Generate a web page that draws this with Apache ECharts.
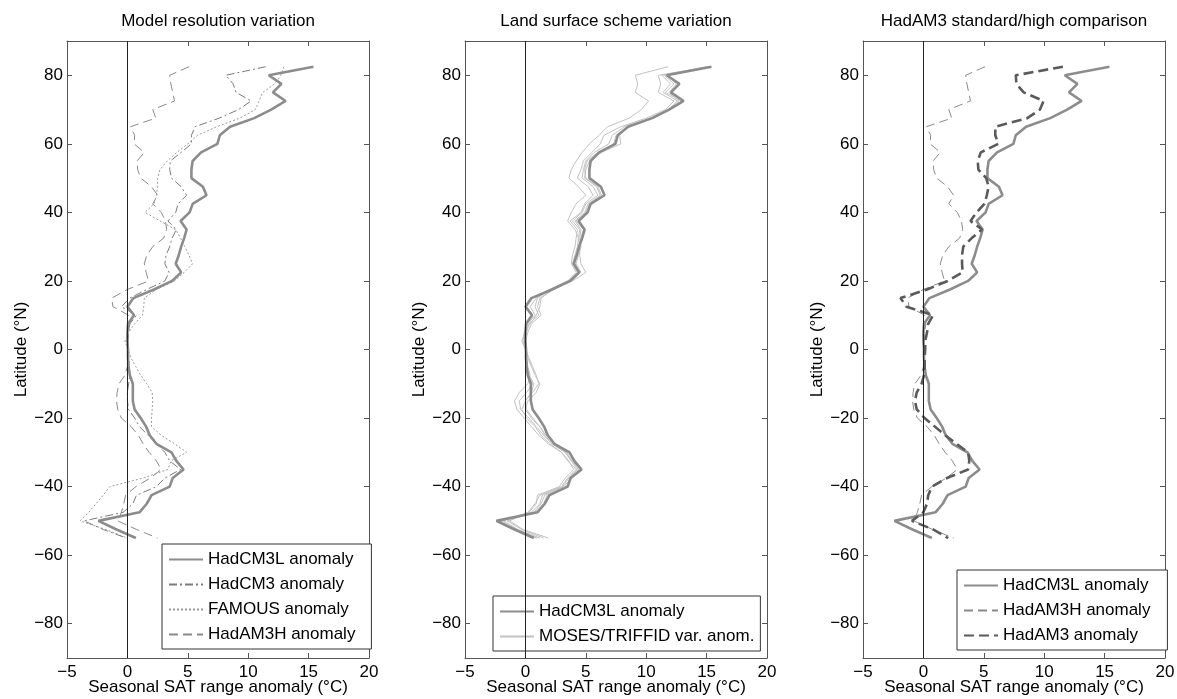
<!DOCTYPE html>
<html>
<head>
<meta charset="utf-8">
<script src="https://cdn.jsdelivr.net/npm/echarts@6/dist/echarts.min.js"></script>
<style>html,body{margin:0;padding:0;background:#fff}#c{width:1177px;height:699px}</style>
</head>
<body>
<div id="c"></div>
<script>
// Latitudes (°N) of each profile point
const lat = [82.5, 80, 77.5, 75, 72.5, 70, 67.5, 65,
  62.5, 60, 57.5, 55, 52.5, 50, 47.5, 45,
  42.5, 40, 37.5, 35, 32.5, 30, 27.5, 25,
  22.5, 20, 17.5, 15, 12.5, 10, 7.5, 5,
  2.5, 0, -2.5, -5, -7.5, -10, -12.5, -15,
  -17.5, -20, -22.5, -25, -27.5, -30, -32.5, -35,
  -37.5, -40, -42.5, -45, -47.5, -50, -52.5, -55];

const hadcm3l = [15.4, 11.7, 12.75, 12.05, 13.1, 11.9, 10.5, 8.5,
  7.65, 7.45, 6.1, 5.4, 5.3, 5.3, 6.25, 6.55,
  5.4, 5.15, 4.4, 4.9, 4.7, 4.45, 4.25, 4.0,
  4.45, 3.7, 2.2, 0.5, 0.0, 0.55, 0.05, 0.0,
  0.0, 0.05, 0.05, 0.1, 0.2, 0.45, 0.45, 0.45,
  0.6, 1.1, 1.55, 1.85, 2.4, 3.65, 4.05, 4.65,
  3.75, 3.5, 2.0, 1.6, 1.0, -2.4, -0.9, 0.7];

const hadcm3 = [11.45, 8.15, 8.75, 9.0, 10.25, 9.2, 7.6, 5.6,
  5.3, 5.3, 4.45, 3.55, 3.5, 3.65, 4.45, 4.9,
  4.2, 4.0, 3.35, 4.05, 3.7, 3.5, 3.2, 3.1,
  3.45, 3.1, 1.6, 0.2, -0.5, 0.75, 0.2, 0.1,
  0.0, 0.1, 0.1, 0.15, 0.2, 0.1, 0.0, 0.0,
  0.1, 0.6, 1.0, 1.7, 2.4, 3.1, 3.5, 4.4,
  3.1, 2.4, 0.75, 0.45, -0.35, -3.6, -2.0, -0.1];

const famous = [12.95, 12.7, 12.2, 11.2, 10.9, 10.6, 9.3, 7.4,
  5.8, 5.0, 4.1, 3.3, 2.7, 2.5, 2.5, 2.4,
  2.2, 1.45, 2.7, 4.0, 4.4, 4.75, 5.1, 5.4,
  4.7, 3.9, 2.4, 1.4, 1.35, 1.25, 0.6, 0.1,
  -0.2, 0.05, 0.3, 0.7, 1.1, 1.6, 2.05, 2.1,
  2.05, 2.0, 2.0, 2.8, 3.9, 4.9, 3.6, 3.35,
  1.3, -1.45, -2.0, -2.6, -3.2, -3.9, -1.8, 0.0];

const hadam3h = [5.1, 3.5, 3.6, 3.75, 3.9, 2.1, 2.35, 0.25,
  0.6, 0.55, 1.4, 0.8, 0.85, 1.1, 2.0, 2.5,
  2.1, 2.8, 3.15, 3.25, 3.0, 2.1, 1.6, 1.4,
  1.55, 1.75, 0.0, -1.3, -1.2, 0.1, 0.2, 0.1,
  0.05, 0.0, 0.0, 0.0, -0.2, -0.7, -0.85, -0.9,
  -0.8, -0.5, 0.3, 0.9, 1.3, 1.8, 2.4, 2.8,
  1.9, 0.7, -0.15, -0.3, -0.5, -0.8, 0.75, 2.5];

const hadam3 = [11.55, 7.65, 7.7, 8.3, 9.95, 9.65, 8.6, 5.95,
  5.95, 6.2, 4.75, 4.5, 4.55, 5.2, 5.4, 5.25,
  5.05, 4.4, 3.9, 4.85, 4.0, 3.3, 3.2, 3.2,
  3.25, 2.0, 0.3, -1.9, -1.4, 0.8, 0.4, 0.3,
  0.15, 0.15, 0.1, 0.1, 0.05, -0.15, -0.55, -0.7,
  -0.55, 0.1, 0.95, 1.8, 2.75, 3.7, 3.8, 3.7,
  1.95, 0.7, 0.4, 0.3, 0.0, -0.95, 0.8, 2.05];

const mosesA = [11.8, 9.1, 9.3, 9.1, 10.2, 9.6, 8.6, 6.8,
  6.1, 5.3, 4.7, 4.2, 3.8, 3.6, 4.4, 5.0,
  4.2, 3.8, 3.5, 4.1, 4.4, 4.5, 4.5, 4.6,
  5.0, 3.9, 2.3, 1.3, 1.2, 0.9, 0.4, -0.1,
  -0.2, 0.0, 0.3, 0.6, 0.9, 1.1, 0.6, 0.0,
  -0.3, 0.1, 0.8, 1.3, 2.0, 3.0, 3.5, 4.2,
  3.5, 3.0, 1.2, 0.8, 0.2, -1.3, -0.2, 1.9];

const mosesB = [15.2, 11.0, 11.2, 11.0, 12.3, 11.6, 10.0, 7.9,
  6.5, 6.2, 5.5, 4.8, 4.6, 4.3, 5.2, 5.6,
  4.9, 4.6, 3.7, 4.3, 4.2, 4.1, 3.9, 3.8,
  4.2, 3.5, 2.0, 1.0, 0.8, 1.1, 0.3, 0.1,
  -0.1, 0.05, 0.1, 0.2, 0.4, 0.2, -0.5, -0.9,
  -0.7, -0.1, 0.5, 1.1, 1.9, 3.0, 3.6, 4.0,
  3.3, 2.8, 1.0, 0.9, 0.3, -1.8, -0.6, 1.2];

const mosesC = [15.0, 11.3, 12.0, 11.4, 12.6, 11.8, 10.3, 8.2,
  7.2, 6.9, 5.7, 5.0, 4.8, 4.7, 5.6, 6.0,
  5.0, 4.7, 3.9, 4.5, 4.4, 4.3, 4.1, 3.9,
  4.3, 3.6, 2.1, 0.9, 0.4, 0.8, 0.2, 0.0,
  -0.3, 0.0, 0.1, 0.15, 0.3, 0.6, 0.1, -0.5,
  -0.4, 0.3, 0.9, 1.5, 2.2, 3.3, 3.8, 4.3,
  3.6, 3.1, 1.4, 1.2, 0.5, -2.0, -0.7, 0.9];

const mosesD = [15.3, 11.5, 12.3, 11.6, 12.9, 12.0, 10.5, 8.4,
  7.8, 7.9, 6.3, 5.3, 5.0, 4.9, 5.9, 6.2,
  5.2, 4.9, 4.1, 4.6, 4.5, 4.6, 4.4, 4.2,
  4.6, 3.8, 2.3, 1.2, 1.0, 1.3, 0.5, 0.2,
  0.0, 0.1, 0.2, 0.5, 0.8, 1.2, 0.9, 0.2,
  0.0, 0.5, 1.2, 1.7, 2.4, 3.4, 3.9, 4.4,
  3.8, 3.2, 1.6, 1.3, 0.7, -1.5, -0.3, 1.5];

const mosesE = [15.4, 11.7, 12.5, 11.9, 12.7, 11.9, 10.4, 8.6,
  7.5, 7.3, 6.0, 5.1, 4.9, 5.0, 6.0, 6.3,
  5.3, 5.0, 4.2, 4.8, 4.6, 4.4, 4.2, 4.1,
  4.5, 3.7, 2.1, 0.6, 0.1, 0.6, 0.1, 0.0,
  0.0, 0.0, 0.0, 0.1, 0.3, 0.7, 0.5, 0.0,
  0.1, 0.6, 1.2, 1.6, 2.2, 3.3, 3.8, 4.5,
  3.7, 3.4, 1.8, 1.5, 0.8, -2.2, -0.8, 1.0];

const panelTitles = ['Model resolution variation', 'Land surface scheme variation', 'HadAM3 standard/high comparison'];
const xLabel = 'Seasonal SAT range anomaly (\u00B0C)';
const yLabel = 'Latitude (\u00B0N)';
const yTicks = [-80, -60, -40, -20, 0, 20, 40, 60, 80];

const N_CM3L = 'HadCM3L anomaly', N_CM3 = 'HadCM3 anomaly', N_FAM = 'FAMOUS anomaly',
      N_AM3H = 'HadAM3H anomaly', N_AM3 = 'HadAM3 anomaly', N_MOS = 'MOSES/TRIFFID var. anom.';

// ---- styling / layout ----
const FONT = "'Liberation Sans', Arial, Helvetica, sans-serif";
const FS = 17;
const gridLefts = [67, 465, 863];
const GW = 302, GTOP = 41, GH = 617;
const AX = '#555';
const fmt = v => (v < 0 ? '\u2212' + Math.abs(v) : String(v));

const styles = {
  cm3l: { color: '#8c8c8c', width: 2.6, type: 'solid' },
  cm3:  { color: '#7a7a7a', width: 1, type: [8, 3, 2, 3] },
  fam:  { color: '#9a9a9a', width: 1, type: [2, 2] },
  am3h: { color: '#8a8a8a', width: 1, type: [9, 5] },
  am3:  { color: '#5a5a5a', width: 2.6, type: [10, 5] },
  mos:  { color: '#c2c2c2', width: 1, type: 'solid' }
};

const pairs = vals => vals.map((v, i) => [v, lat[i]]);

function line(name, vals, panel, st, z, zeroLine) {
  const s = {
    type: 'line', name: name, data: pairs(vals),
    xAxisIndex: panel * 2, yAxisIndex: panel * 2,
    symbol: 'none', showSymbol: false, smooth: false, z: z,
    lineStyle: { color: st.color, width: st.width, type: st.type },
    itemStyle: { color: st.color },
    emphasis: { disabled: true }, silent: true, animation: false
  };
  if (zeroLine) {
    s.markLine = {
      silent: true, symbol: ['none', 'none'], animation: false,
      label: { show: false },
      lineStyle: { color: '#222', width: 1, type: 'solid' },
      emphasis: { disabled: true },
      data: [{ xAxis: 0 }]
    };
  }
  return s;
}

const grids = [], xAxes = [], yAxes = [], titles = [];
for (let p = 0; p < 3; p++) {
  grids.push({ left: gridLefts[p], top: GTOP, width: GW, height: GH, containLabel: false, outerBoundsMode: 'none', show: false });
  const xBase = { type: 'value', gridIndex: p, min: -5, max: 20, interval: 5, splitLine: { show: false } };
  xAxes.push(Object.assign({}, xBase, {
    position: 'bottom',
    axisLine: { show: true, onZero: false, lineStyle: { color: AX, width: 1 } },
    axisTick: { show: true, inside: true, length: 5, lineStyle: { color: AX } },
    axisLabel: { show: true, fontSize: FS, fontFamily: FONT, color: '#000', margin: 6, formatter: fmt, showMinLabel: true, showMaxLabel: true },
    name: xLabel, nameLocation: 'middle', nameGap: 21, nameMoveOverlap: false,
    nameTextStyle: { fontSize: FS, fontFamily: FONT, color: '#000' }
  }));
  xAxes.push(Object.assign({}, xBase, {
    position: 'top',
    axisLine: { show: true, onZero: false, lineStyle: { color: AX, width: 1 } },
    axisTick: { show: true, inside: true, length: 5, lineStyle: { color: AX } },
    axisLabel: { show: false }
  }));
  const yBase = { type: 'value', gridIndex: p, min: -90, max: 90, splitLine: { show: false } };
  yAxes.push(Object.assign({}, yBase, {
    position: 'left',
    axisLine: { show: true, onZero: false, lineStyle: { color: AX, width: 1 } },
    axisTick: { show: true, inside: true, length: 5, lineStyle: { color: AX }, customValues: yTicks },
    axisLabel: { show: true, fontSize: FS, fontFamily: FONT, color: '#000', margin: 4, formatter: fmt, customValues: yTicks },
    name: yLabel, nameLocation: 'middle', nameGap: 36, nameRotate: 90,
    nameTextStyle: { fontSize: FS, fontFamily: FONT, color: '#000' }
  }));
  yAxes.push(Object.assign({}, yBase, {
    position: 'right',
    axisLine: { show: true, onZero: false, lineStyle: { color: AX, width: 1 } },
    axisTick: { show: true, inside: true, length: 5, lineStyle: { color: AX }, customValues: yTicks },
    axisLabel: { show: false }
  }));
  titles.push({
    text: panelTitles[p], left: gridLefts[p] + GW / 2, top: 13, textAlign: 'center', padding: 0,
    textStyle: { fontSize: FS, fontFamily: FONT, color: '#000', fontWeight: 'normal' }
  });
}

const series = [
  // panel 1
  line(N_CM3, hadcm3, 0, styles.cm3, 2),
  line(N_FAM, famous, 0, styles.fam, 2),
  line(N_AM3H, hadam3h, 0, styles.am3h, 2),
  line(N_CM3L, hadcm3l, 0, styles.cm3l, 3, true),
  // panel 2
  line(N_MOS, mosesA, 1, styles.mos, 2),
  line(N_MOS, mosesB, 1, styles.mos, 2),
  line(N_MOS, mosesC, 1, styles.mos, 2),
  line(N_MOS, mosesD, 1, styles.mos, 2),
  line(N_MOS, mosesE, 1, styles.mos, 2),
  line(N_CM3L, hadcm3l, 1, styles.cm3l, 3, true),
  // panel 3
  line(N_AM3H, hadam3h, 2, styles.am3h, 2),
  line(N_CM3L, hadcm3l, 2, styles.cm3l, 3, true),
  line(N_AM3, hadam3, 2, styles.am3, 4)
];

function legend(left, top, names, padRight) {
  return {
    show: true, orient: 'vertical', left: left, top: top, data: names,
    itemWidth: 34, itemHeight: 14, itemGap: 8,
    padding: [7, padRight, 6, 6],
    borderColor: '#333', borderWidth: 1, backgroundColor: '#fff',
    selectedMode: false,
    itemStyle: { color: 'rgba(0,0,0,0)', borderWidth: 0, borderColor: 'rgba(0,0,0,0)', opacity: 0 },
    textStyle: { fontSize: FS, fontFamily: FONT, color: '#000' }
  };
}

const option = {
  animation: false,
  backgroundColor: '#fff',
  textStyle: { fontFamily: FONT },
  title: titles,
  grid: grids,
  xAxis: xAxes,
  yAxis: yAxes,
  legend: [
    legend(162, 544, [N_CM3L, N_CM3, N_FAM, N_AM3H], 16),
    legend(493, 596, [N_CM3L, N_MOS], 6),
    legend(957, 570, [N_CM3L, N_AM3H, N_AM3], 17)
  ],
  tooltip: { show: false },
  series: series
};

const chart = echarts.init(document.getElementById('c'), null, { renderer: 'canvas', width: 1177, height: 699 });
chart.setOption(option);
</script>
</body>
</html>
